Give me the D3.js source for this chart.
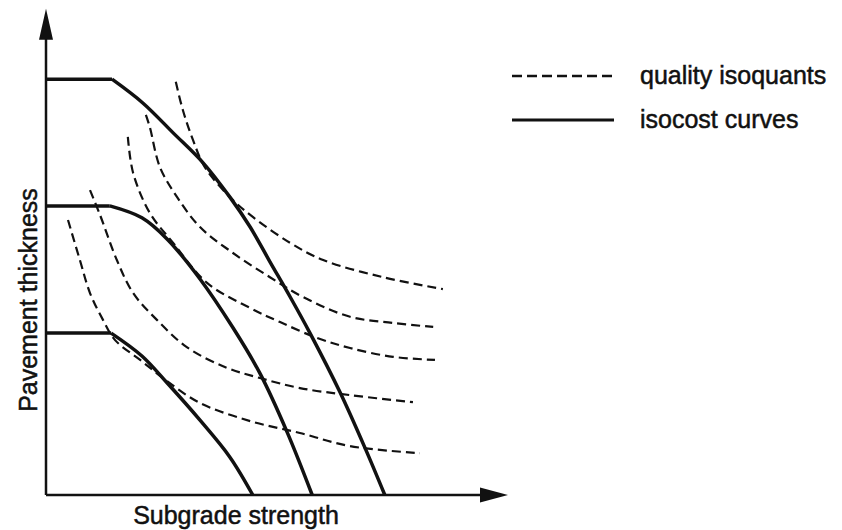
<!DOCTYPE html>
<html>
<head>
<meta charset="utf-8">
<script src="https://cdn.jsdelivr.net/npm/d3@7/dist/d3.min.js"></script>
<style>
    body { margin: 0; background: #fff; }
    text { font-family: "Liberation Sans", Arial, Helvetica, sans-serif; fill: #111; stroke: #111; stroke-width: 0.5px; }
</style>
</head>
<body>
<div id="graph"></div>
<script>
"use strict";

var width = 842,
    height = 530;

// isocost curves (solid), [strength, thickness]; point 1 is the kink
let isocostLow  = [[0, 36.8], [14.8, 36.8], [21.8, 31.6], [27.5, 25.5], [35, 17.0], [41.8, 8.6], [47, 0]];
let isocostMid  = [[0, 65.7], [14.5, 65.7], [21.8, 63], [27.5, 58.2], [35, 49.1], [42.5, 38], [48.6, 27.7], [54.8, 14.3], [60.5, 0]];
let isocostHigh = [[0, 94.5], [15, 94.5], [22, 89.1], [28.9, 82.3], [35.7, 75.5], [41.8, 67.7], [46.4, 60.9],
                   [50.9, 53], [55.5, 45], [60, 36.8], [66.8, 23.4], [72.5, 10.7], [77, 0]];

// quality isoquants (dashed)
let quality1 = [[29.5, 93.9], [31.1, 87.5], [33.4, 80.7], [36.1, 74.5], [41.8, 67.7], [47, 63.2], [55.5, 57.3], [63, 53.4], [76.6, 49.5], [90.2, 46.8]];
let quality2 = [[22.7, 86.4], [23.6, 83.6], [25.9, 74.5], [29.8, 67.7], [35, 60.9], [42.5, 55], [50.9, 49.5], [58.4, 45], [69.1, 40.5], [78.9, 39.1], [88, 38.2]];
let quality3 = [[18.6, 81.4], [19.8, 73.2], [23.6, 64.1], [28.9, 57.3], [36.6, 48.2], [46.4, 42.5], [53.2, 39.3], [61.6, 35.7], [69.1, 33.4], [78.9, 31.4], [88.4, 30.7]];
let quality4 = [[10, 69.3], [12.3, 63.6], [16.1, 53.4], [19.8, 45.9], [25.2, 39.8], [32, 33.6], [41.1, 28.9], [48.6, 26.6], [57.7, 24.3], [69.1, 22.7], [83.4, 21.1]];
let quality5 = [[5, 62.5], [7.7, 53.4], [10, 45.9], [12.95, 39.8], [15.7, 35.2], [21.4, 30.7], [27.5, 25.9], [35, 20.9], [46.4, 16.8], [57.7, 14.1], [69.1, 11.1], [85, 9.5]];

let isocosts = [isocostLow, isocostMid, isocostHigh];
let isoquants = [quality1, quality2, quality3, quality4, quality5];

// axis ends (arrow tips) in data units
let xAxisEnd = 105;
let yAxisEnd = 110.5;

let xTitle = "Subgrade strength";
let yTitle = "Pavement thickness";
let legendLabels = ["quality isoquants", "isocost curves"];

let svg = d3.select("#graph")
    .append("svg")
    .attr("width", width)
    .attr("height", height);

let x = d3.scaleLinear().domain([0, 100]).range([46, 486]);
let y = d3.scaleLinear().domain([0, 100]).range([495, 55]);

let solidLine = d3.line()
    .x(d => x(d[0]))
    .y(d => y(d[1]))
    .curve(d3.curveCatmullRom.alpha(0.5));

let flatLine = d3.line()
    .x(d => x(d[0]))
    .y(d => y(d[1]));

// axes with arrow heads
let axes = svg.append("g").attr("id", "axes");
axes.append("line")
    .attr("x1", x(0)).attr("y1", y(0))
    .attr("x2", x(xAxisEnd) - 10).attr("y2", y(0))
    .attr("stroke", "#111").attr("stroke-width", 2.5);
axes.append("line")
    .attr("x1", x(0)).attr("y1", y(0))
    .attr("x2", x(0)).attr("y2", y(yAxisEnd) + 10)
    .attr("stroke", "#111").attr("stroke-width", 2.5);
axes.append("path")
    .attr("d", "M" + x(xAxisEnd) + "," + y(0) + " l-28,-7.5 l0,15 z")
    .attr("fill", "#111");
axes.append("path")
    .attr("d", "M" + x(0) + "," + y(yAxisEnd) + " l-7,31 l14,0 z")
    .attr("fill", "#111");

// dashed isoquants
svg.append("g").attr("id", "isoquants")
    .selectAll("path")
    .data(isoquants)
    .enter()
    .append("path")
    .attr("d", solidLine)
    .attr("fill", "none")
    .attr("stroke", "#111")
    .attr("stroke-width", 2.2)
    .attr("stroke-dasharray", "9,5");

// isocost curves: flat part straight, then the falling curve
let costs = svg.append("g").attr("id", "isocosts");
costs.selectAll(".flat")
    .data(isocosts)
    .enter()
    .append("path")
    .attr("class", "flat")
    .attr("d", d => flatLine(d.slice(0, 2)))
    .attr("fill", "none")
    .attr("stroke", "#111")
    .attr("stroke-width", 3.5);
costs.selectAll(".fall")
    .data(isocosts)
    .enter()
    .append("path")
    .attr("class", "fall")
    .attr("d", d => solidLine(d.slice(1)))
    .attr("fill", "none")
    .attr("stroke", "#111")
    .attr("stroke-width", 3.5)
    .attr("stroke-linejoin", "round");

// axis titles
svg.append("text")
    .attr("x", 236)
    .attr("y", 524)
    .attr("text-anchor", "middle")
    .style("font-size", "25px")
    .text(xTitle);
svg.append("text")
    .attr("transform", "translate(37,300) rotate(-90)")
    .attr("text-anchor", "middle")
    .style("font-size", "25px")
    .text(yTitle);

// legend
let legend = svg.append("g").attr("id", "legend");
let legendY = [76, 120];
legend.selectAll("line")
    .data(legendLabels)
    .enter()
    .append("line")
    .attr("x1", 512).attr("x2", 614)
    .attr("y1", (d, i) => legendY[i]).attr("y2", (d, i) => legendY[i])
    .attr("stroke", "#111")
    .attr("stroke-width", (d, i) => i == 0 ? 2.5 : 3)
    .attr("stroke-dasharray", (d, i) => i == 0 ? "10,5" : null);
legend.selectAll("text")
    .data(legendLabels)
    .enter()
    .append("text")
    .attr("x", 640)
    .attr("y", (d, i) => legendY[i] + 8)
    .style("font-size", "25px")
    .text(d => d);
</script>
</body>
</html>
